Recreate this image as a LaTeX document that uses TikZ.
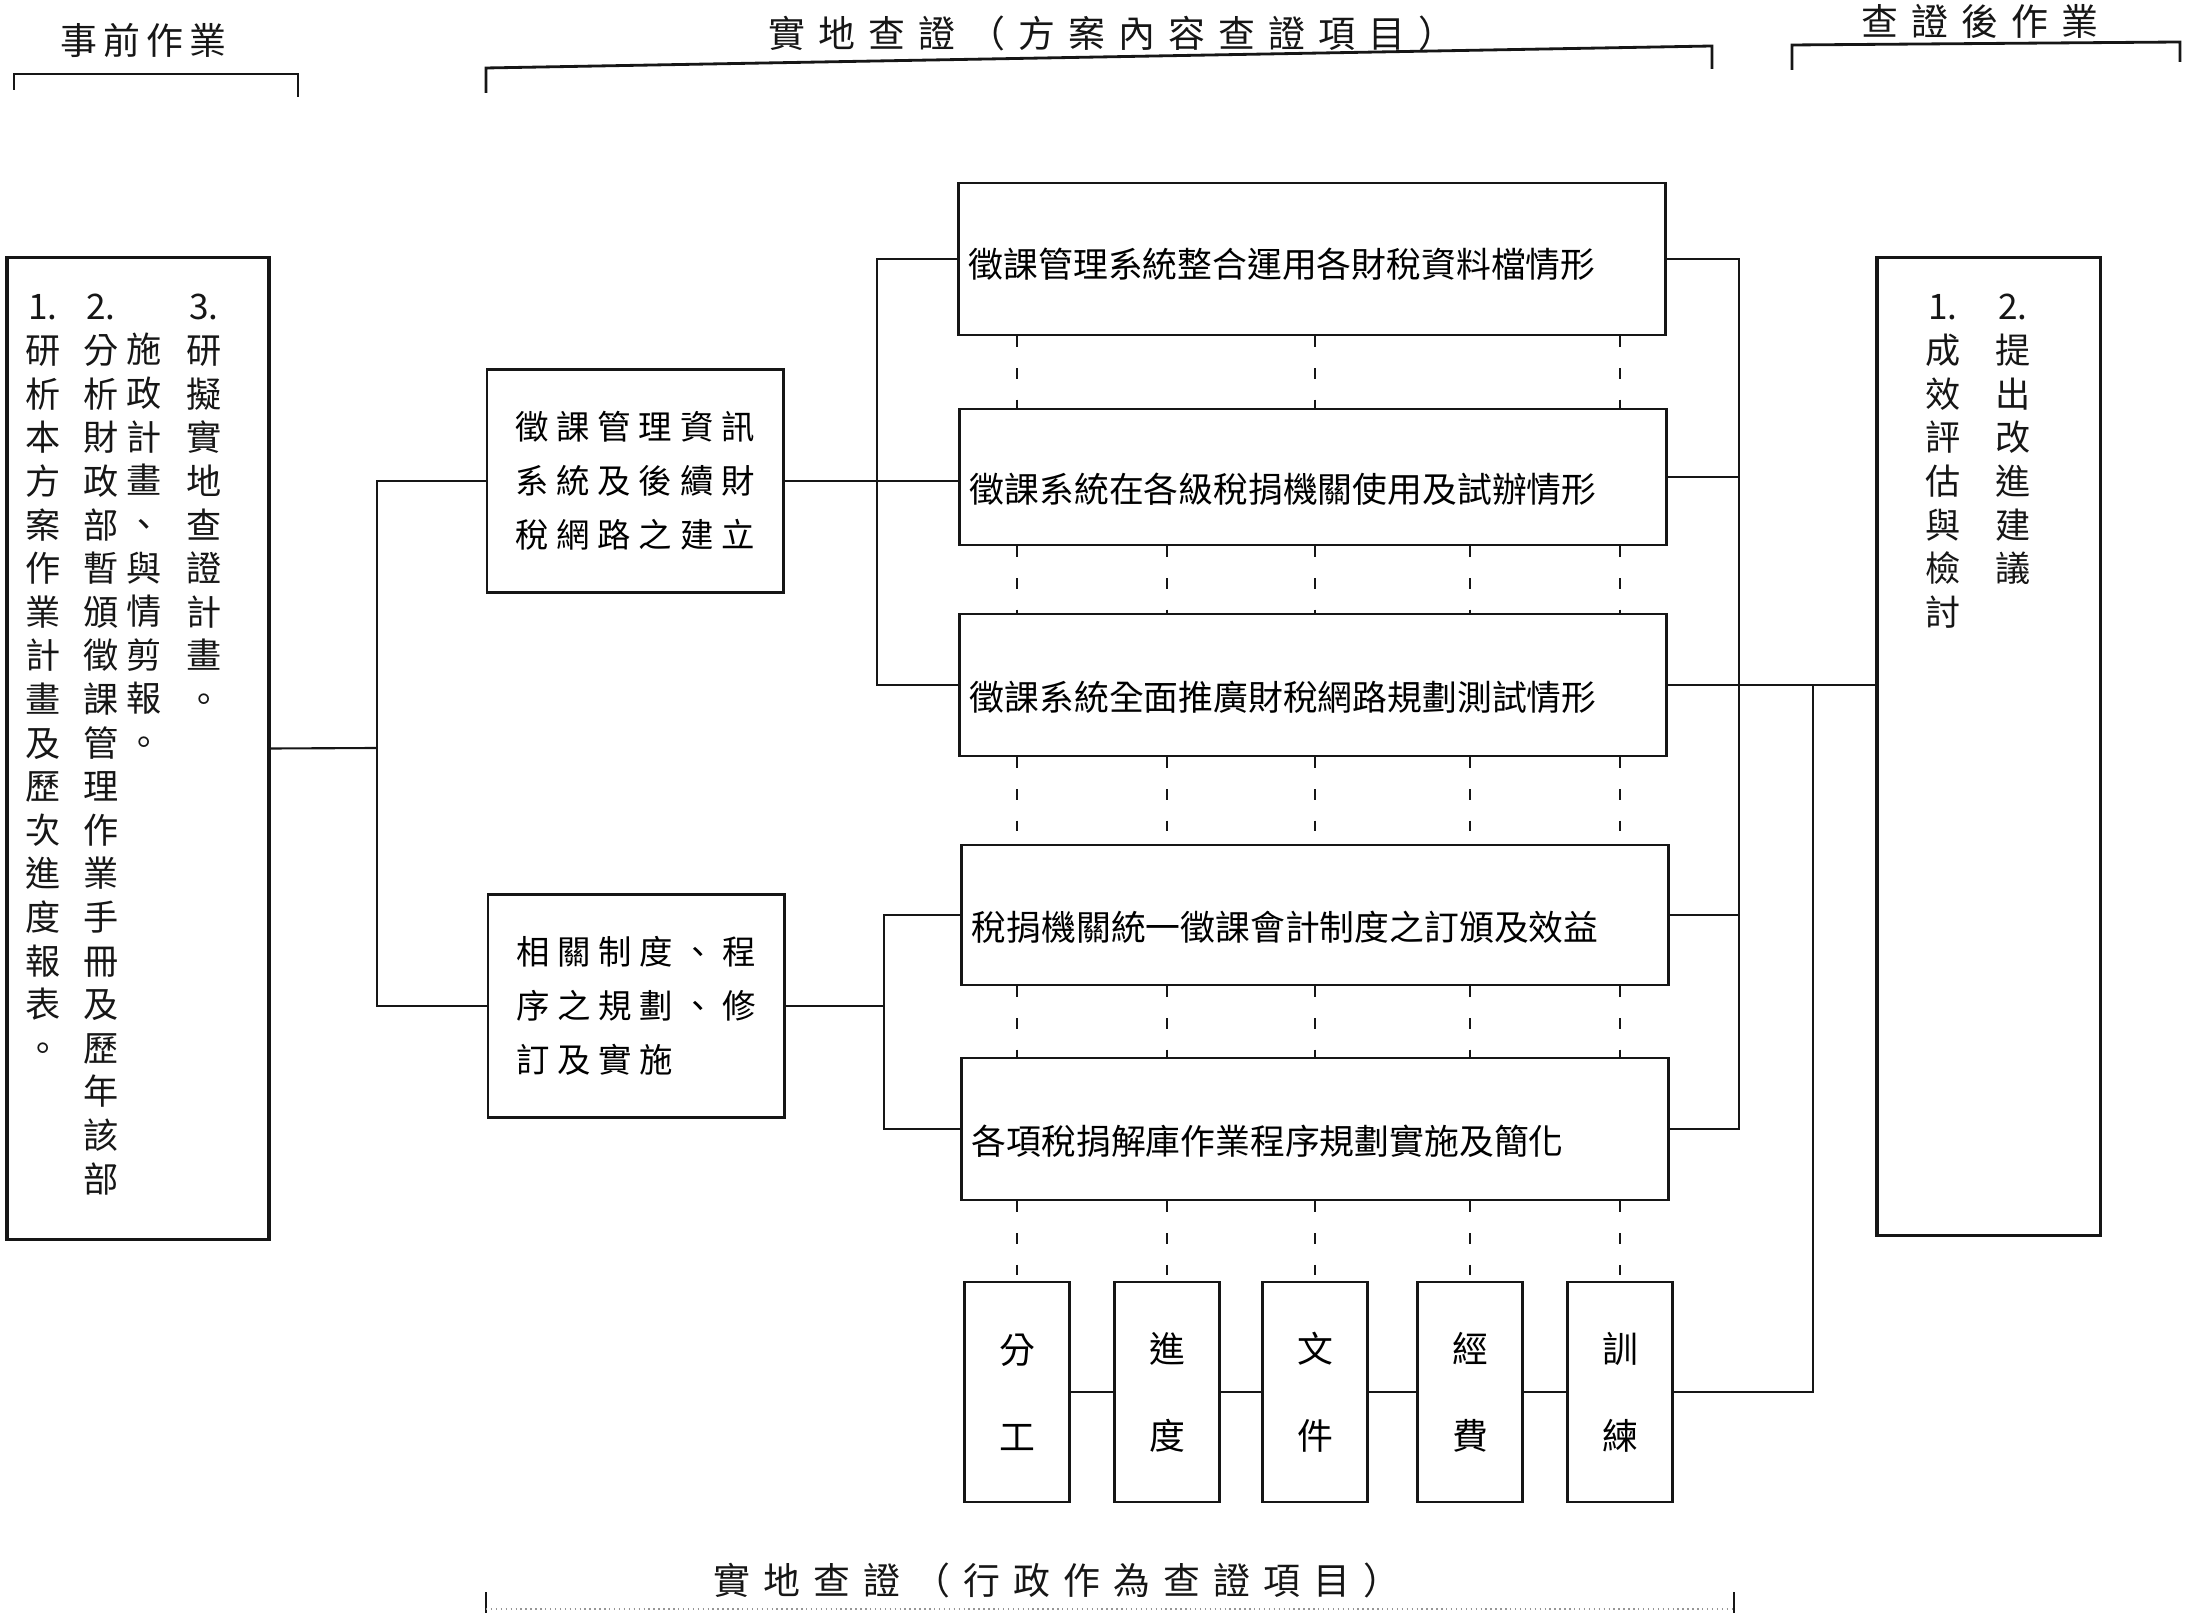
\documentclass[tikz,border=0pt]{standalone}
\usepackage{fontspec}
\setmainfont{Noto Sans CJK TC}
\usepackage{xcolor}
\definecolor{ink}{RGB}{22,22,22}

% fixed pitch for the spaced-out characters
\makeatletter
\newcommand\gapchars[2]{\def\gap@w{#1}\gap@loop#2\@nil}
\def\gap@loop#1{\ifx#1\@nil\else\makebox[\gap@w]{#1}\expandafter\gap@loop\fi}
\newcommand\vchars[1]{\vchar@loop#1\@nil}
\def\vchar@loop#1{\ifx#1\@nil\else#1\par\expandafter\vchar@loop\fi}
\makeatother

\tikzset{
  stagebox/.style={draw=ink,line width=0.9pt,inner sep=0pt},
  topicbox/.style={draw=ink,line width=0.8pt,inner sep=0pt,minimum width=2.96cm,minimum height=2.23cm,
    text width=2.472cm,align=left,font=\fontsize{9.5pt}{15.3pt}\selectfont},
  itembox/.style={draw=ink,line width=0.8pt,inner sep=0pt,minimum width=7.06cm,
    text width=6.86cm,align=left,text height=5.5mm,text depth=0.4mm,font=\fontsize{9.9pt}{12pt}\selectfont},
  admbox/.style={draw=ink,line width=0.8pt,inner sep=0pt,minimum width=1.05cm,minimum height=2.2cm,
    align=center,font=\fontsize{10.2pt}{24.75pt}\selectfont},
  vcol/.style={inner sep=0pt,text width=0.5cm,align=center,anchor=base,text=ink,
    font=\fontsize{10pt}{12.4pt}\selectfont},
  headtxt/.style={inner sep=0pt,text=ink,font=\fontsize{10.5pt}{12pt}\selectfont},
  link/.style={draw=ink,line width=0.6pt},
  thinlink/.style={draw=ink,line width=0.45pt},
  tie/.style={draw=ink,line width=0.6pt,dash pattern=on 3pt off 6pt},
  bracket/.style={draw=ink,line width=0.8pt}
}

\begin{document}
\begin{tikzpicture}[x=0.01cm,y=0.01cm]
  \path[use as bounding box] (0,0) rectangle (2188,-1613);

  % headings
  \node[headtxt] (hpre) at (143,-40) {\gapchars{4.3mm}{事前作業}};
  \node[headtxt] (hsite) at (1112,-33) {\gapchars{5mm}{實地查證（方案內容查證項目）}};
  \node[headtxt] (hpost) at (1980,-21) {\gapchars{5mm}{查證後作業}};
  \node[headtxt] (hadm) at (1057,-1580) {\gapchars{5mm}{實地查證（行政作為查證項目）}};

  \draw[bracket] (14,-90) -- (14,-74) -- (298,-74) -- (298,-97);
  \draw[bracket] (486,-93) -- (486,-68) -- (1712,-46) -- (1712,-69);
  \draw[bracket] (1792,-70) -- (1792,-45) -- (2180,-42) -- (2180,-62);
  \draw[bracket] (486,-1592) -- (486,-1613);
  \draw[bracket] (1734,-1592) -- (1734,-1613);
  \draw[ink!45,densely dotted] (486,-1609) -- (1734,-1609);

  % before / after boxes
  \node[stagebox,minimum width=2.62cm,minimum height=9.81cm] (prep) at (138,-748.5) {};
  \node[vcol] (prepa) at (43,-320) {1.\par\vchars{研析本方案作業計畫及歷次進度報表。}};
  \node[vcol] (prepb) at (101,-320) {2.\par\vchars{分析財政部暫頒徵課管理作業手冊及歷年該部}};
  \node[vcol] (prepc) at (144,-363) {\vchars{施政計畫、與情剪報。}};
  \node[vcol] (prepd) at (204,-320) {3.\par\vchars{研擬實地查證計畫。}};

  \node[stagebox,minimum width=2.23cm,minimum height=9.77cm] (post) at (1988.5,-746.5) {};
  \node[vcol] (posta) at (1943,-320) {1.\par\vchars{成效評估與檢討}};
  \node[vcol] (postb) at (2013,-320) {2.\par\vchars{提出改進建議}};

  % two topics
  \node[topicbox] (sysbox) at (635,-481)
    {\gapchars{4.12mm}{徵課管理資訊}\\\gapchars{4.12mm}{系統及後續財}\\\gapchars{4.12mm}{稅網路之建立}};
  \node[topicbox] (rulebox) at (636,-1006)
    {\gapchars{4.12mm}{相關制度、程}\\\gapchars{4.12mm}{序之規劃、修}\\\gapchars{4.12mm}{訂及實施}};

  % content check items
  \node[itembox,minimum height=1.52cm,text height=4.1mm] (c1) at (1312,-259) {徵課管理系統整合運用各財稅資料檔情形};
  \node[itembox,minimum height=1.36cm] (c2) at (1313,-477) {徵課系統在各級稅捐機關使用及試辦情形};
  \node[itembox,minimum height=1.42cm] (c3) at (1313,-685) {徵課系統全面推廣財稅網路規劃測試情形};
  \node[itembox,minimum height=1.40cm] (c4) at (1315,-915) {稅捐機關統一徵課會計制度之訂頒及效益};
  \node[itembox,minimum height=1.42cm] (c5) at (1315,-1129) {各項稅捐解庫作業程序規劃實施及簡化};

  % administrative check items
  \node[admbox] (adm1) at (1017,-1392) {分\\工};
  \node[admbox] (adm2) at (1167,-1392) {進\\度};
  \node[admbox] (adm3) at (1315,-1392) {文\\件};
  \node[admbox] (adm4) at (1470,-1392) {經\\費};
  \node[admbox] (adm5) at (1620,-1392) {訓\\練};

  \coordinate (ljoin) at (377,-748);
  \coordinate (ujoin) at (877,-481);
  \coordinate (djoin) at (884,-1006);
  \coordinate (rjoin) at (1739,-685);
  \coordinate (ajoin) at (1813,-685);

  \draw[link] (prep.east) -- (ljoin);
  \draw[link] (sysbox.west) -| (ljoin) |- (rulebox.west);
  \draw[link] (c1.west) -| (ujoin) |- (c3.west);
  \draw[link] (sysbox.east) -- (sysbox.east -| c2.west);
  \draw[link] (c4.west) -| (djoin) |- (c5.west);
  \draw[link] (rulebox.east) -- (djoin);
  \draw[link] (c1.east) -| (rjoin) |- (c5.east);
  \draw[link] (c2.east) -- (c2.east -| rjoin);
  \draw[link] (c4.east) -- (c4.east -| rjoin);
  \draw[link] (c3.east) -- (c3.east -| post.west);
  \draw[link] (adm5.east) -| (ajoin);

  \foreach \i/\j in {1/2,2/3,3/4,4/5}
    \draw[thinlink] (adm\i.east) -- (adm\j.west);

  % dotted ties from each administrative item up through the content items
  \foreach \k in {1,3,5}
    \draw[tie] (c1.south -| adm\k) -- (c2.north -| adm\k);
  \foreach \a/\b in {c2/c3,c3/c4,c4/c5}
    \foreach \k in {1,...,5}
      \draw[tie] (\a.south -| adm\k) -- (\b.north -| adm\k);
  \foreach \k in {1,...,5}
    \draw[tie] (c5.south -| adm\k) -- (adm\k.north);
\end{tikzpicture}
\end{document}
